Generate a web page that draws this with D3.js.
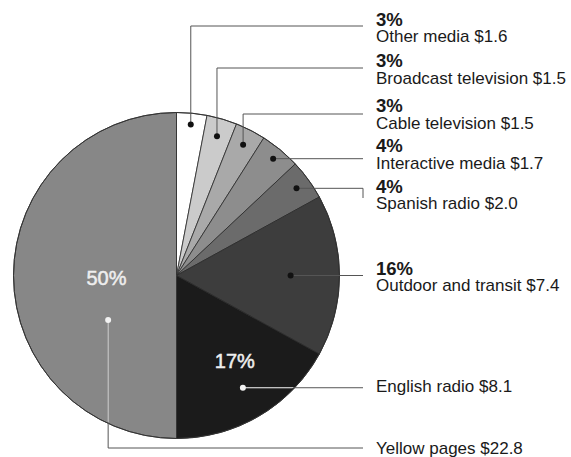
<!DOCTYPE html>
<html>
<head>
<meta charset="utf-8">
<script src="https://cdn.jsdelivr.net/npm/d3@7"></script>
<style>
  html, body { margin: 0; padding: 0; background: #fff; }
  svg { display: block; font-family: "Liberation Sans", Arial, Helvetica, sans-serif; }
</style>
</head>
<body>
<svg width="571" height="457"></svg>
<script>
// data, clockwise from 12 o'clock
var categories = ["Other media", "Broadcast television", "Cable television", "Interactive media",
                  "Spanish radio", "Outdoor and transit", "English radio", "Yellow pages"];
var shares = [3, 3, 3, 4, 4, 16, 17, 50];          // percent of total
var dollars = [1.6, 1.5, 1.5, 1.7, 2.0, 7.4, 8.1, 22.8];
var colors = ["#ffffff", "#cbcbcb", "#a9a9a9", "#8d8d8d", "#6b6b6b", "#3d3d3d", "#1b1b1b", "#878787"];

// layout of the callouts (not data)
var cx = 176.5, cy = 275.5, r = 163;
var lineEnd = 363, textX = 376;
var callouts = [
  {f: 0.93, route: "up", lineY: 26, pctY: 26, nameY: 42},
  {f: 0.89, route: "up", lineY: 68, pctY: 67, nameY: 84},
  {f: 0.90, route: "up", lineY: 114, pctY: 112, nameY: 129},
  {f: 0.93, route: "flat", pctY: 152, nameY: 169},
  {f: 0.91, route: "hook", hookY: 198, pctY: 193, nameY: 209},
  {f: 0.70, angle: 90, route: "flat", pctY: 275, nameY: 291},
  {f: 0.80, route: "flat", nameY: 392, inner: {f: 0.64, angle: 146, y: 368}, light: true},
  {f: 0.50, angle: 237, route: "down", lineY: 448, nameY: 454, inner: {f: 0.43, angle: 272, y: 285}, light: true}
];

var svg = d3.select("svg");
var g = svg.append("g").attr("transform", "translate(" + cx + "," + cy + ")");

var pie = d3.pie().sort(null).value(function (d) { return d; });
var arcs = pie(shares);
var arc = d3.arc().innerRadius(0).outerRadius(r);

g.selectAll(".slice")
    .data(arcs)
    .enter().append("path")
    .attr("class", "slice")
    .attr("d", arc)
    .attr("fill", function (d, i) { return colors[i]; })
    .attr("stroke", "#2a2a2a")
    .attr("stroke-width", 0.8);

g.append("circle").attr("r", r).attr("fill", "none").attr("stroke", "#333").attr("stroke-width", 1);

function polar(deg, rad) {
    var a = deg * Math.PI / 180;
    return [rad * Math.sin(a), -rad * Math.cos(a)];
}

svg.append("clipPath").attr("id", "pieclip")
    .append("circle").attr("cx", cx).attr("cy", cy).attr("r", r - 1);

var lines = svg.append("g");
var dots = svg.append("g");
var labels = svg.append("g");

arcs.forEach(function (d, i) {
    var c = callouts[i];
    var mid = (d.startAngle + d.endAngle) / 2 * 180 / Math.PI;
    var p = polar(c.angle != null ? c.angle : mid, c.f * r);
    var x = cx + p[0], y = cy + p[1];
    var pts;
    if (c.route === "up" || c.route === "down") {
        pts = [[x, y], [x, c.lineY], [lineEnd, c.lineY]];
    } else if (c.route === "hook") {
        pts = [[x, y], [lineEnd, y], [lineEnd, c.hookY]];
    } else {
        pts = [[x, y], [lineEnd, y]];
    }
    var path = d3.line()(pts);
    lines.append("path").attr("d", path)
        .attr("fill", "none").attr("stroke", "#555").attr("stroke-width", 1);
    if (c.light) {
        lines.append("path").attr("d", path).attr("clip-path", "url(#pieclip)")
            .attr("fill", "none").attr("stroke", "#e6e6e6").attr("stroke-width", 1);
    }
    dots.append("circle").attr("cx", x).attr("cy", y).attr("r", 3)
        .attr("fill", c.light ? "#f2f2f2" : "#111");

    if (c.inner) {
        var q = polar(c.inner.angle, c.inner.f * r);
        labels.append("text")
            .attr("x", cx + q[0]).attr("y", c.inner.y)
            .attr("text-anchor", "middle")
            .attr("font-size", 20)
            .attr("fill", "#eeeeee")
            .attr("stroke", "#eeeeee").attr("stroke-width", 0.5)
            .text(shares[i] + "%");
    } else {
        labels.append("text")
            .attr("x", textX).attr("y", c.pctY)
            .attr("font-size", 18.5).attr("font-weight", "bold")
            .attr("fill", "#1a1a1a")
            .text(shares[i] + "%");
    }
    labels.append("text")
        .attr("x", textX).attr("y", c.nameY)
        .attr("font-size", 17)
        .attr("fill", "#1a1a1a")
        .text(categories[i] + " $" + d3.format(".1f")(dollars[i]));
});
</script>
</body>
</html>
